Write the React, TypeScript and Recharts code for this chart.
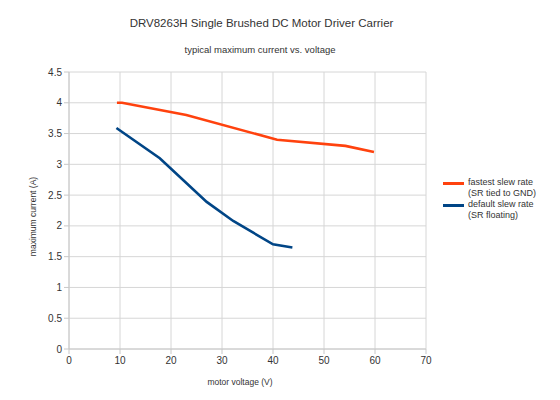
import React from 'react';
import { LineChart, Line, XAxis, YAxis, CartesianGrid, Label } from 'recharts';

const fastestVoltage = [9.4, 10.4, 23, 40.8, 54.2, 59.8];
const fastestCurrent = [4.0, 4.0, 3.8, 3.4, 3.3, 3.2];
const defaultVoltage = [9.3, 17.8, 27, 32.2, 40, 43.8];
const defaultCurrent = [3.59, 3.1, 2.39, 2.08, 1.7, 1.65];
const xTicks = [0, 10, 20, 30, 40, 50, 60, 70];
const yTicks = [0, 0.5, 1, 1.5, 2, 2.5, 3, 3.5, 4, 4.5];
const seriesNames = [
  ['fastest slew rate', '(SR tied to GND)'],
  ['default slew rate', '(SR floating)'],
];
const seriesColors = ['#ff420e', '#004586'];

const fastestData = fastestVoltage.map((x, i) => ({ x, y: fastestCurrent[i] }));
const defaultData = defaultVoltage.map((x, i) => ({ x, y: defaultCurrent[i] }));

const FONT = '"Liberation Sans", Arial, sans-serif';

const YLabel = (props: any) => {
  const vb = props.viewBox || {};
  const cx = 33;
  const cy = vb.y + vb.height / 2 + 6;
  return (
    <text
      x={cx}
      y={cy}
      transform={`rotate(-90 ${cx} ${cy})`}
      textAnchor="middle"
      dominantBaseline="central"
      fontSize={8.5}
      fill="#333"
      fontFamily={FONT}
    >
      maximum current (A)
    </text>
  );
};

const XLabel = (props: any) => {
  const vb = props.viewBox || {};
  return (
    <text
      x={240}
      y={vb.y + 33}
      textAnchor="middle"
      dominantBaseline="central"
      fontSize={8.5}
      fill="#333"
      fontFamily={FONT}
    >
      motor voltage (V)
    </text>
  );
};

export default function App() {
  return (
    <div style={{ position: 'absolute', left: 0, top: 0, width: 560, height: 400, background: '#fff', fontFamily: FONT }}>
      <div style={{ position: 'absolute', left: 0, width: 523, top: 14, textAlign: 'center', fontSize: 11.5, color: '#333', lineHeight: '18px' }}>
        DRV8263H Single Brushed DC Motor Driver Carrier
      </div>
      <div style={{ position: 'absolute', left: 0, width: 520, top: 42, textAlign: 'center', fontSize: 9.5, color: '#333', lineHeight: '16px' }}>
        typical maximum current vs. voltage
      </div>
      <LineChart width={560} height={400} margin={{ top: 72, right: 134, bottom: 0, left: 0 }}>
        <CartesianGrid stroke="#d6d6d6" strokeWidth={1} />
        <XAxis
          dataKey="x"
          type="number"
          domain={[0, 70]}
          ticks={xTicks}
          interval={0}
          height={51}
          tickSize={5}
          tickMargin={3}
          stroke="#c8c8c8"
          tick={{ fill: '#333', fontSize: 10, fontFamily: FONT }}
          allowDataOverflow
        >
          <Label content={XLabel} />
        </XAxis>
        <YAxis
          dataKey="y"
          type="number"
          domain={[0, 4.5]}
          ticks={yTicks}
          interval={0}
          width={69}
          tickSize={5}
          tickMargin={2}
          stroke="#c8c8c8"
          tick={{ fill: '#333', fontSize: 10, fontFamily: FONT }}
          allowDataOverflow
        >
          <Label content={YLabel} />
        </YAxis>
        <Line data={fastestData} dataKey="y" stroke={seriesColors[0]} strokeWidth={2.6} dot={false} isAnimationActive={false} />
        <Line data={defaultData} dataKey="y" stroke={seriesColors[1]} strokeWidth={2.6} dot={false} isAnimationActive={false} />
      </LineChart>
      {seriesNames.map((lines, i) => (
        <div key={i} style={{ position: 'absolute', left: 443, top: 177 + i * 22, display: 'flex', alignItems: 'flex-start', fontSize: 9, color: '#333', lineHeight: '11px' }}>
          <div style={{ width: 21, height: 3, background: seriesColors[i], marginTop: 5, marginRight: 4 }} />
          <div>
            <div>{lines[0]}</div>
            <div>{lines[1]}</div>
          </div>
        </div>
      ))}
    </div>
  );
}
